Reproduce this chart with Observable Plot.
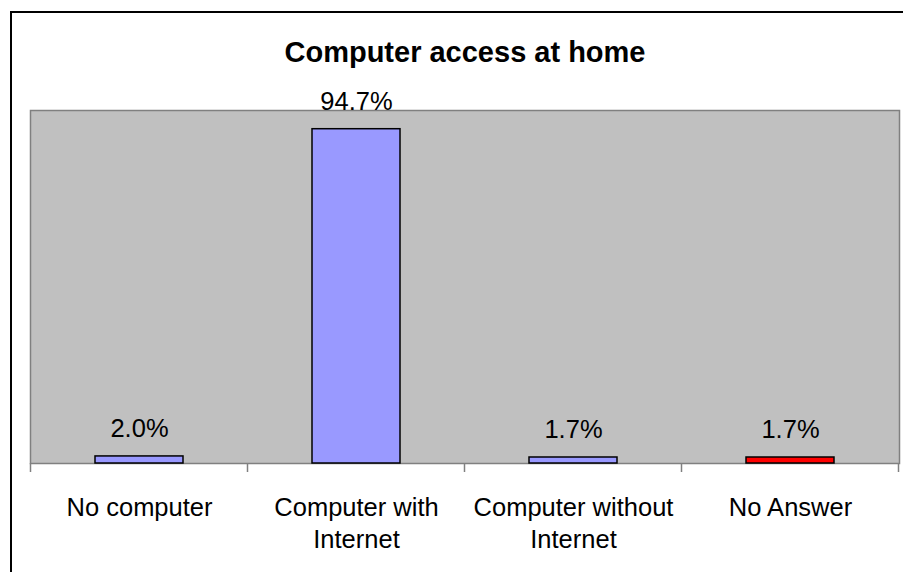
<!DOCTYPE html>
<html>
<head>
<meta charset="utf-8">
<script src="https://cdn.jsdelivr.net/npm/d3@7"></script>
<script src="https://cdn.jsdelivr.net/npm/@observablehq/plot@0.6"></script>
<style>
  html, body { margin: 0; padding: 0; background: #fff; overflow: hidden; width: 903px; height: 572px; }
  #wrap { position: relative; width: 903px; height: 572px; overflow: hidden; font-family: "Liberation Sans", Arial, sans-serif; }
  #border { position: absolute; left: 10px; top: 11px; width: 2000px; height: 2000px; border: 2px solid #000; box-sizing: border-box; }
  #title { position: absolute; left: 0; top: 38px; width: 930px; text-align: center; font-size: 29px; line-height: 29px; font-weight: bold; color: #000; }
  #chart { position: absolute; left: 0; top: 0; }
</style>
</head>
<body>
<div id="wrap">
  <div id="border"></div>
  <div id="chart"></div>
  <div id="title">Computer access at home</div>
</div>
<script>
const titleText = "Computer access at home";
const categories = ["No computer", "Computer with Internet", "Computer without Internet", "No Answer"];
const tickLabels = ["No computer", "Computer with\nInternet", "Computer without\nInternet", "No Answer"];
const values = [2.0, 94.7, 1.7, 1.7];
const barColors = ["#9999FF", "#9999FF", "#9999FF", "#FF0000"];

document.getElementById("title").textContent = titleText;

const data = categories.map((c, i) => ({category: c, value: values[i], color: barColors[i], label: tickLabels[i]}));
const labelOf = new Map(data.map(d => [d.category, d.label]));

const plot = Plot.plot({
  width: 903,
  height: 572,
  marginLeft: 30,
  marginRight: 4,
  marginTop: 110,
  marginBottom: 109,
  style: {background: "transparent", fontFamily: "'Liberation Sans', Arial, sans-serif", color: "#000"},
  x: {domain: categories, paddingInner: 0.595, paddingOuter: 0.2975, align: 0.5, axis: null, label: null},
  y: {domain: [0, 100], axis: null},
  marks: [
    Plot.frame({fill: "#C0C0C0", stroke: "#808080", strokeWidth: 1.5}),
    Plot.barY(data, {x: "category", y: "value", fill: "color", stroke: "#000", strokeWidth: 1.5}),
    Plot.text(data, {x: "category", y: "value", text: d => d.value.toFixed(1) + "%", dy: -19, lineAnchor: "bottom", fontSize: 25.5, fill: "#000"}),
    Plot.axisX({label: null, tickSize: 0, tickPadding: 29, fontSize: 25.5, lineHeight: 1.28, tickFormat: d => labelOf.get(d), fill: "#000"})
  ]
});

document.getElementById("chart").appendChild(plot);

// category-boundary tick marks, derived from the band scale
const xs = plot.scale("x");
const ys = plot.scale("y");
const svg = plot.tagName.toLowerCase() === "svg" ? plot : plot.querySelector("svg");
const y0 = ys.apply(0);
const gap = (xs.step - xs.bandwidth) / 2;
const bounds = categories.map(c => xs.apply(c) - gap);
bounds.push(xs.apply(categories[categories.length - 1]) + xs.bandwidth + gap);
d3.select(svg).append("g")
  .selectAll("line").data(bounds).join("line")
  .attr("x1", d => d).attr("x2", d => d)
  .attr("y1", y0).attr("y2", y0 + 9)
  .attr("stroke", "#808080").attr("stroke-width", 1.5);
</script>
</body>
</html>
